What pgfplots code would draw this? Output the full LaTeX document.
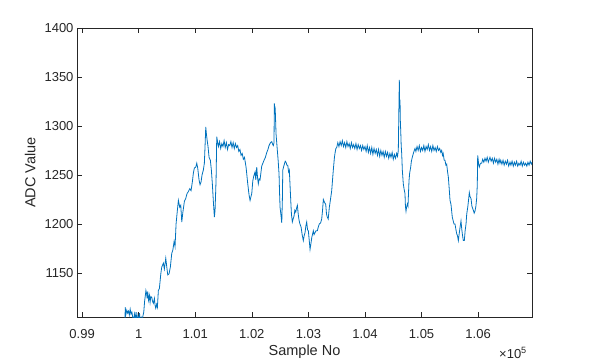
\documentclass[border=0pt]{standalone}
\usepackage{pgfplots}
\pgfplotsset{compat=1.18}
\usepackage{pgfplotstable}
\usepackage{fontspec}
\setmainfont{Liberation Sans}
\definecolor{mblue}{rgb}{0,0.447,0.741}
\definecolor{mgray}{rgb}{0.15,0.15,0.15}
\pgfplotstableread{
x y
99760 1104
99762 1115
99775 1108
99790 1112
99805 1109
99820 1111
99835 1107
99850 1113
99865 1108
99880 1110
99895 1105
99910 1100
99925 1108
99940 1103
99955 1110
99970 1098
99985 1106
100000 1101
100015 1109
100030 1097
100045 1104
100060 1100
100075 1106
100090 1110
100105 1121
100120 1128
100128 1132
100140 1129
100150 1124
100160 1131
100175 1122
100190 1127
100202 1120
100215 1126
100232 1125
100245 1121
100260 1119
100278 1124
100290 1117
100302 1114
100318 1118
100331 1115
100348 1132
100366 1134
100391 1149
100408 1156
100437 1160
100454 1154
100479 1165
100497 1156
100514 1148
100537 1149
100560 1156
100585 1170
100603 1173
100626 1182
100643 1177
100661 1200
100684 1214
100702 1224
100726 1217
100744 1219
100762 1202
100779 1211
100808 1223
100832 1226
100855 1231
100878 1233
100903 1236
100926 1234
100949 1243
100967 1252
100984 1257
101009 1258
101027 1262
101044 1257
101067 1245
101085 1240
101103 1243
101120 1250
101143 1255
101161 1262
101173 1279
101186 1299
101197 1292
101209 1286
101226 1279
101244 1268
101267 1265
101285 1255
101302 1241
101320 1223
101338 1207
101350 1214
101368 1245
101380 1289
101391 1285
101410 1279
101430 1284
101450 1277
101470 1282
101490 1279
101510 1285
101530 1278
101550 1283
101570 1276
101590 1281
101610 1280
101630 1284
101650 1278
101670 1283
101690 1277
101710 1282
101730 1278
101750 1280
101770 1274
101790 1276
101810 1270
101830 1272
101850 1266
101870 1268
101898 1258
101928 1241
101950 1230
101969 1224
101985 1228
101999 1231
102017 1244
102035 1249
102057 1253
102070 1245
102087 1258
102100 1248
102115 1241
102130 1246
102145 1245
102160 1252
102175 1259
102195 1262
102216 1265
102240 1268
102264 1273
102285 1276
102304 1280
102330 1283
102352 1284
102370 1281
102380 1280
102392 1283
102398 1323
102404 1316
102410 1320
102416 1313
102428 1292
102440 1283
102451 1275
102465 1265
102481 1251
102490 1232
102499 1217
102515 1209
102529 1201
102540 1225
102547 1255
102560 1258
102575 1261
102590 1264
102605 1263
102620 1260
102635 1260
102650 1253
102663 1255
102675 1240
102688 1224
102700 1210
102716 1202
102730 1205
102746 1208
102760 1214
102776 1212
102790 1216
102805 1219
102820 1210
102834 1204
102850 1200
102870 1197
102890 1189
102910 1183
102925 1188
102940 1191
102955 1198
102970 1202
102985 1194
102999 1193
103015 1183
103029 1174
103045 1180
103059 1186
103075 1190
103087 1193
103100 1189
103117 1191
103135 1193
103158 1193
103175 1197
103193 1200
103215 1201
103235 1205
103250 1214
103264 1225
103285 1222
103306 1220
103320 1210
103334 1207
103350 1205
103370 1217
103390 1225
103412 1234
103440 1255
103460 1268
103470 1272
103485 1277
103500 1278
103520 1283
103540 1279
103560 1284
103580 1280
103600 1285
103620 1279
103640 1283
103660 1278
103680 1284
103700 1279
103720 1282
103740 1277
103760 1283
103780 1278
103800 1281
103820 1277
103840 1282
103860 1276
103880 1281
103900 1277
103920 1280
103940 1275
103960 1280
103980 1276
104000 1279
104020 1274
104040 1280
104060 1273
104080 1278
104100 1272
104120 1278
104140 1271
104160 1277
104180 1272
104200 1276
104220 1270
104240 1276
104260 1269
104280 1275
104300 1270
104320 1274
104340 1268
104360 1274
104380 1269
104400 1273
104420 1267
104440 1272
104460 1268
104480 1273
104500 1266
104520 1271
104540 1267
104560 1272
104575 1269
104589 1275
104600 1320
104607 1347
104613 1320
104619 1327
104625 1305
104632 1295
104640 1280
104649 1272
104660 1255
104677 1241
104690 1236
104707 1231
104715 1218
104725 1213
104735 1217
104748 1220
104760 1218
104778 1244
104790 1252
104808 1258
104820 1264
104836 1268
104860 1273
104884 1277
104900 1274
104920 1279
104940 1275
104960 1280
104980 1274
105000 1278
105020 1275
105040 1280
105060 1274
105080 1279
105100 1276
105120 1281
105140 1275
105160 1279
105180 1274
105200 1280
105220 1275
105240 1278
105260 1274
105280 1279
105300 1275
105320 1277
105340 1273
105356 1275
105370 1270
105382 1272
105400 1265
105414 1265
105430 1260
105444 1261
105460 1253
105473 1248
105490 1235
105503 1224
105520 1220
105543 1207
105560 1203
105573 1200
105591 1200
105605 1195
105621 1190
105635 1188
105650 1183
105665 1190
105679 1196
105697 1203
105710 1195
105720 1190
105738 1183
105756 1183
105770 1193
105786 1200
105798 1210
105816 1217
105830 1224
105844 1232
105856 1228
105874 1226
105890 1218
105915 1214
105930 1211
105944 1213
105960 1218
105974 1226
105985 1240
105992 1270
106000 1266
106010 1260
106020 1258
106040 1262
106063 1262
106080 1266
106100 1263
106121 1267
106140 1264
106160 1268
106180 1263
106209 1268
106230 1264
106250 1267
106270 1262
106290 1267
106310 1263
106330 1266
106350 1261
106370 1266
106386 1262
106400 1265
106420 1261
106440 1265
106460 1260
106480 1264
106500 1261
106520 1265
106540 1259
106563 1263
106580 1260
106600 1264
106621 1259
106640 1263
106660 1260
106680 1264
106700 1259
106720 1262
106740 1260
106760 1264
106780 1259
106800 1263
106820 1260
106840 1262
106860 1259
106880 1263
106900 1260
106920 1264
106940 1261
106955 1263
}\adcdata
\begin{document}
\begin{tikzpicture}[x=1pt,y=1pt]
\path[use as bounding box] (-77pt,-45pt) rectangle (512pt,317pt);
\begin{axis}[name=ax, at={(0pt,0pt)}, anchor=south west, scale only axis,
  width=455pt, height=289pt,
  xmin=98910, xmax=106952, ymin=1105, ymax=1400,
  xtick={99000,100000,101000,102000,103000,104000,105000,106000},
  xticklabels={0.99,1,1.01,1.02,1.03,1.04,1.05,1.06},
  scaled x ticks=false,
  ytick={1150,1200,1250,1300,1350,1400},
  yticklabels={1150,1200,1250,1300,1350,1400},
  tick align=inside, tick pos=both, major tick length=5pt,
  axis line style={mgray, line width=0.6pt},
  tick style={mgray, line width=0.6pt},
  ticklabel style={font=\fontsize{13}{13}\selectfont, text=mgray},
  xticklabel style={yshift=-9pt},
  xlabel={Sample No}, ylabel={ADC Value},
  label style={font=\fontsize{14.5}{14.5}\selectfont, text=mgray},
  xlabel style={at={(axis description cs:0.5,-0.121)}, anchor=center},
  ylabel style={at={(axis description cs:-0.103,0.5)}, anchor=center},
  clip=true,
]
\addplot[mblue, line width=0.8pt, no markers] table[x=x,y=y] {\adcdata};
\end{axis}
\node[anchor=east, text=mgray, font=\fontsize{13}{13}\selectfont, inner sep=0pt]
  at ([xshift=-5pt, yshift=-36pt]ax.south east) {×10\textsuperscript{5}};
\end{tikzpicture}
\end{document}
